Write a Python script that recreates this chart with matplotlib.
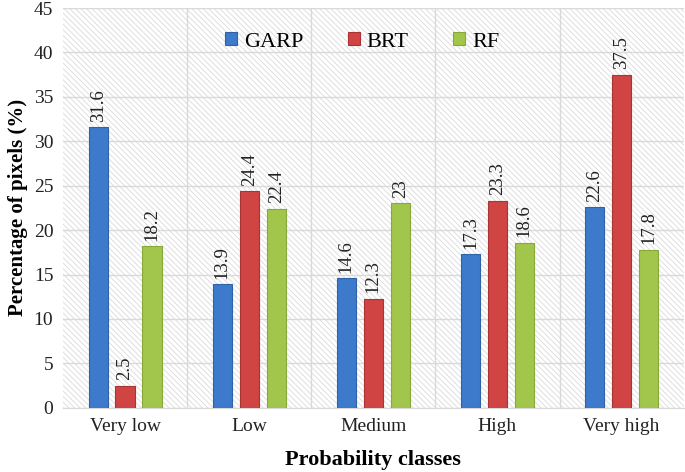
import numpy as np
import matplotlib.pyplot as plt
from matplotlib.patches import Rectangle

categories = ["Very low", "Low", "Medium", "High", "Very high"]
garp = [31.6, 13.9, 14.6, 17.3, 22.6]
brt = [2.5, 24.4, 12.3, 23.3, 37.5]
rf = [18.2, 22.4, 23, 18.6, 17.8]
garp_labels = ["31.6", "13.9", "14.6", "17.3", "22.6"]
brt_labels = ["2.5", "24.4", "12.3", "23.3", "37.5"]
rf_labels = ["18.2", "22.4", "23", "18.6", "17.8"]

plt.rcParams['font.family'] = ['Liberation Serif', 'DejaVu Serif']
plt.rcParams['hatch.color'] = '#dadada'
plt.rcParams['hatch.linewidth'] = 0.6

fig = plt.figure(figsize=(6.85, 4.72), dpi=100)
ax = fig.add_axes([0.092, 0.136, 0.906, 0.847])

# hatched background of the plot area
ax.add_patch(Rectangle((0, 0), 1, 1, transform=ax.transAxes, facecolor='white',
                       hatch='\\\\\\\\\\\\', edgecolor='#dadada', linewidth=0, zorder=0))

x = np.arange(len(categories))
w = 0.155
off = 0.217
series = [
    (garp, garp_labels, "GARP", '#3d7acb', '#2f62a8'),
    (brt, brt_labels, "BRT", '#d04444', '#a83434'),
    (rf, rf_labels, "RF", '#a2c64b', '#86a93a'),
]
for i, (vals, labs, name, fc, ec) in enumerate(series):
    pos = x + (i - 1) * off
    ax.bar(pos, vals, width=w, color=fc, edgecolor=ec, linewidth=0.8, label=name, zorder=3)
    for p, v, t in zip(pos, vals, labs):
        ax.text(p, v + 0.6, t, rotation=90, ha='center', va='bottom', fontsize=13.5,
                color='#222222', zorder=4)

ax.set_xlim(-0.5, 4.5)
ax.set_ylim(0, 45)
ax.set_yticks(range(0, 46, 5))
ax.set_xticks(x)
ax.set_xticklabels(categories)
ax.set_xticks(np.arange(0.5, 4.5, 1), minor=True)
ax.grid(axis='y', which='major', color='#d9d9d9', linewidth=1, zorder=1)
ax.grid(axis='x', which='minor', color='#d9d9d9', linewidth=1, zorder=1)
ax.tick_params(axis='both', which='both', length=0, labelsize=14, labelcolor='#222222')
ax.tick_params(axis='x', pad=7)
ax.tick_params(axis='y', pad=7)
for s in ['top', 'right', 'left']:
    ax.spines[s].set_visible(False)
ax.spines['bottom'].set_color('#d9d9d9')

ax.set_xlabel("Probability classes", fontsize=16, fontweight='bold', labelpad=11)
ax.set_ylabel("Percentage of pixels (%)", fontsize=15, fontweight='bold', labelpad=4)

leg = ax.legend(loc='upper center', bbox_to_anchor=(0.482, 0.99), ncol=3, frameon=False,
                fontsize=16, handlelength=0.55, handleheight=0.55, columnspacing=2.0,
                handletextpad=0.3)

fig.savefig("out.png", dpi=100)
